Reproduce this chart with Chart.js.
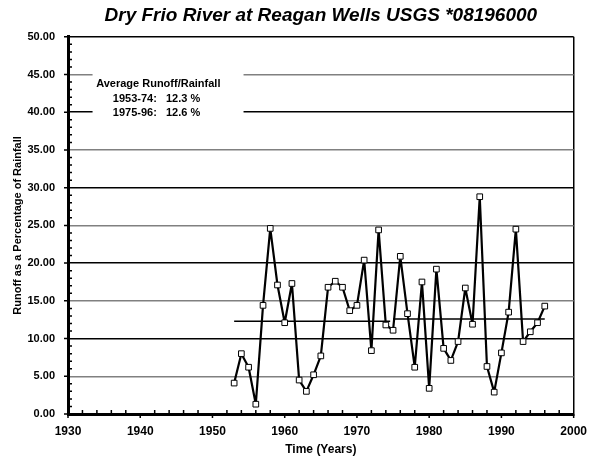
<!DOCTYPE html>
<html>
<head>
<meta charset="utf-8">
<script src="https://cdn.jsdelivr.net/npm/chart.js@4/dist/chart.umd.min.js"></script>
<style>
  body { margin: 0; background: #fff; }
  canvas { display: block; }
</style>
</head>
<body>
<canvas id="myChart" width="597" height="464"></canvas>
<script>
'use strict';
var years = [1953, 1954, 1955, 1956, 1957, 1958, 1959, 1960, 1961, 1962, 1963,
    1964, 1965, 1966, 1967, 1968, 1969, 1970, 1971, 1972, 1973, 1974,
    1975, 1976, 1977, 1978, 1979, 1980, 1981, 1982, 1983, 1984, 1985,
    1986, 1987, 1988, 1989, 1990, 1991, 1992, 1993, 1994, 1995, 1996];
var runoffPct = [4.1, 8.0, 6.2, 1.3, 14.4, 24.6, 17.1, 12.1, 17.3, 4.5, 3.0,
    5.2, 7.7, 16.8, 17.6, 16.8, 13.7, 14.4, 20.4, 8.4, 24.4, 11.8,
    11.1, 20.9, 13.3, 6.2, 17.5, 3.4, 19.2, 8.7, 7.1, 9.6, 16.7,
    11.9, 28.8, 6.3, 2.9, 8.1, 13.5, 24.5, 9.6, 10.9, 12.1, 14.3];
var avgPeriod1 = [1953, 1974.6];
var avgValue1 = 12.3;
var avgPeriod2 = [1975, 1996];
var avgValue2 = 12.6;
var noteLines = ['Average Runoff/Rainfall', '1953-74:   12.3 %', '1975-96:   12.6 %'];

var FONT = 'Liberation Sans, Arial, sans-serif';

var points = years.map(function (yr, i) {
    return { x: yr, y: runoffPct[i] };
});

// little tick marks like the original: minor inside, major outside
var axisTicks = {
    id: 'axisTicks',
    afterDraw: function (chart) {
        var ctx = chart.ctx;
        var xs = chart.scales.x, ys = chart.scales.y;
        var area = chart.chartArea;
        ctx.save();
        ctx.strokeStyle = '#000';
        ctx.lineWidth = 1.5;
        ctx.beginPath();
        for (var v = 1930; v <= 2000; v += 2) {
            var px = xs.getPixelForValue(v);
            if (v % 10 === 0) {
                ctx.moveTo(px, area.bottom);
                ctx.lineTo(px, area.bottom + 4);
            } else {
                ctx.moveTo(px, area.bottom - 4);
                ctx.lineTo(px, area.bottom);
            }
        }
        for (var w = 0; w <= 50; w += 1) {
            var py = ys.getPixelForValue(w);
            if (w % 5 === 0) {
                ctx.moveTo(area.left - 4, py);
                ctx.lineTo(area.left, py);
            } else {
                ctx.moveTo(area.left, py);
                ctx.lineTo(area.left + 4, py);
            }
        }
        ctx.stroke();
        ctx.restore();
    }
};

// text box with the two averages, sitting over the grid lines
var noteBox = {
    id: 'noteBox',
    beforeDatasetsDraw: function (chart) {
        var ctx = chart.ctx;
        var xs = chart.scales.x, ys = chart.scales.y;
        var x0 = xs.getPixelForValue(1933.4), x1 = xs.getPixelForValue(1954.3);
        var y0 = ys.getPixelForValue(46.5), y1 = ys.getPixelForValue(39.0);
        ctx.save();
        ctx.fillStyle = '#fff';
        ctx.fillRect(x0, y0, x1 - x0, y1 - y0);
        ctx.fillStyle = '#000';
        ctx.font = 'bold 11px ' + FONT;
        ctx.textBaseline = 'middle';
        ctx.textAlign = 'left';
        ctx.fillText(noteLines[0], xs.getPixelForValue(1933.9), ys.getPixelForValue(43.8));
        ctx.fillText(noteLines[1], xs.getPixelForValue(1936.2), ys.getPixelForValue(41.8));
        ctx.fillText(noteLines[2], xs.getPixelForValue(1936.2), ys.getPixelForValue(39.9));
        ctx.restore();
    }
};

var ctx = document.getElementById('myChart');
var myChart = new Chart(ctx, {
    type: 'line',
    data: {
        datasets: [{
            label: 'Runoff/Rainfall',
            data: points,
            borderColor: '#000',
            borderWidth: 2.2,
            borderJoinStyle: 'round',
            pointStyle: 'rect',
            pointRadius: 4,
            pointBackgroundColor: '#fff',
            pointBorderColor: '#000',
            pointBorderWidth: 1
        }, {
            label: 'Average 1953-74',
            data: avgPeriod1.map(function (yr) { return { x: yr, y: avgValue1 }; }),
            borderColor: '#000',
            borderWidth: 1.5,
            pointRadius: 0
        }, {
            label: 'Average 1975-96',
            data: avgPeriod2.map(function (yr) { return { x: yr, y: avgValue2 }; }),
            borderColor: '#000',
            borderWidth: 1.5,
            pointRadius: 0
        }]
    },
    options: {
        responsive: false,
        animation: false,
        elements: {
            line: {
                tension: 0
            }
        },
        layout: {
            padding: 0
        },
        plugins: {
            legend: { display: false },
            tooltip: { enabled: false },
            title: {
                display: true,
                fullSize: false,
                text: 'Dry Frio River at Reagan Wells USGS *08196000',
                color: '#000',
                font: { family: FONT, size: 19, weight: 'bold', style: 'italic', lineHeight: 1.2 },
                padding: { top: 4, bottom: 10 }
            }
        },
        scales: {
            x: {
                type: 'linear',
                min: 1930,
                max: 2000,
                afterFit: function (scale) { scale.height = 50; },
                ticks: {
                    stepSize: 10,
                    color: '#000',
                    padding: 10,
                    maxRotation: 0,
                    font: { family: FONT, size: 12, weight: 'bold' },
                    callback: function (value) { return String(value); }
                },
                grid: {
                    drawTicks: false,
                    lineWidth: 1.5,
                    color: function (c) {
                        return c.tick && c.tick.value === 2000 ? '#000' : 'rgba(0,0,0,0)';
                    }
                },
                border: { display: true, color: '#000', width: 3 },
                title: {
                    display: true,
                    text: 'Time (Years)',
                    color: '#000',
                    font: { family: FONT, size: 12, weight: 'bold' },
                    padding: { top: 0, bottom: 7 }
                }
            },
            y: {
                min: 0,
                max: 50,
                afterFit: function (scale) { scale.width = 68; },
                ticks: {
                    stepSize: 5,
                    color: '#000',
                    padding: 13,
                    font: { family: FONT, size: 11, weight: 'bold' },
                    callback: function (value) { return value.toFixed(2); }
                },
                grid: {
                    drawTicks: false,
                    lineWidth: 1.5,
                    color: function (c) {
                        return c.tick && c.tick.value % 10 === 0 ? '#000' : '#808080';
                    }
                },
                border: { display: true, color: '#000', width: 3 },
                title: {
                    display: true,
                    text: 'Runoff as a Percentage of Rainfall',
                    color: '#000',
                    font: { family: FONT, size: 11, weight: 'bold' },
                    padding: { top: 11, bottom: 0 }
                }
            },
            yRight: {
                position: 'right',
                display: true,
                afterFit: function (scale) { scale.width = 22; },
                ticks: { display: false },
                grid: { display: false, drawTicks: false },
                border: { display: false }
            }
        }
    },
    plugins: [noteBox, axisTicks]
});
</script>
</body>
</html>
